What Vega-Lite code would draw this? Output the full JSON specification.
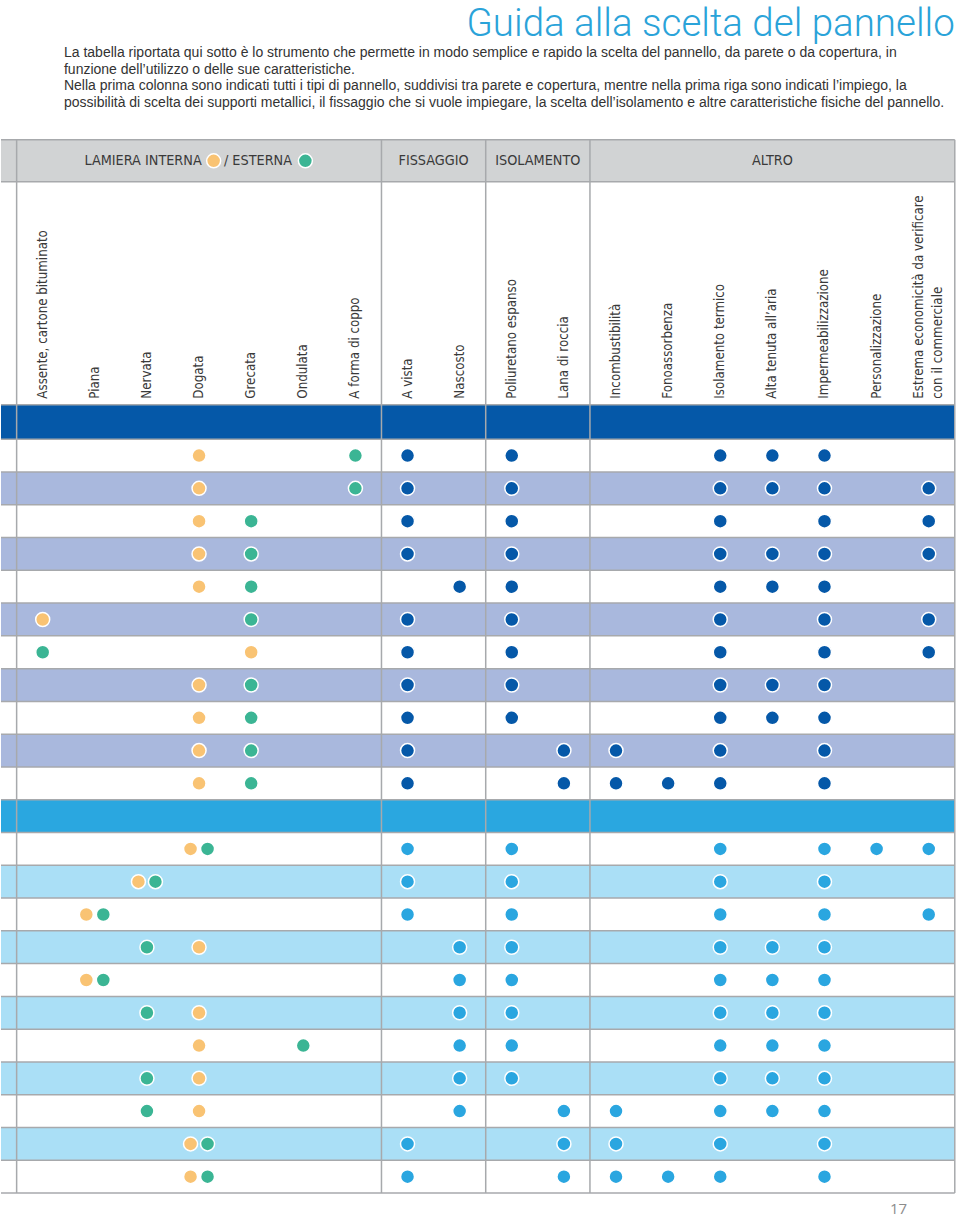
{
"$schema":"https://vega.github.io/schema/vega-lite/v6.json",
"width":960,"height":1217,
"autosize":{"type":"fit","contains":"padding"},
"padding":0,
"background":"#ffffff",
"config":{"view":{"stroke":null}},
"datasets":{
"fasce":[
{"col":0.2,"col2":18.5,"riga":-8.634,"riga2":-7.354,"tipo":"intestazione"},
{"col":0.2,"col2":18.5,"riga":-0.55,"riga2":0.5,"tipo":"banda_parete"},
{"col":0.2,"col2":18.5,"riga":1.5,"riga2":2.5,"tipo":"riga_parete"},
{"col":0.2,"col2":18.5,"riga":3.5,"riga2":4.5,"tipo":"riga_parete"},
{"col":0.2,"col2":18.5,"riga":5.5,"riga2":6.5,"tipo":"riga_parete"},
{"col":0.2,"col2":18.5,"riga":7.5,"riga2":8.5,"tipo":"riga_parete"},
{"col":0.2,"col2":18.5,"riga":9.5,"riga2":10.5,"tipo":"riga_parete"},
{"col":0.2,"col2":18.5,"riga":11.5,"riga2":12.5,"tipo":"banda_copertura"},
{"col":0.2,"col2":18.5,"riga":13.5,"riga2":14.5,"tipo":"riga_copertura"},
{"col":0.2,"col2":18.5,"riga":15.5,"riga2":16.5,"tipo":"riga_copertura"},
{"col":0.2,"col2":18.5,"riga":17.5,"riga2":18.5,"tipo":"riga_copertura"},
{"col":0.2,"col2":18.5,"riga":19.5,"riga2":20.5,"tipo":"riga_copertura"},
{"col":0.2,"col2":18.5,"riga":21.5,"riga2":22.5,"tipo":"riga_copertura"}
],
"linee":[
{"col":0.2,"col2":18.5,"riga":-8.634,"riga2":-8.634},
{"col":0.2,"col2":18.5,"riga":-7.354,"riga2":-7.354},
{"col":0.2,"col2":18.5,"riga":-0.55,"riga2":-0.55},
{"col":0.2,"col2":18.5,"riga":0.5,"riga2":0.5},
{"col":0.2,"col2":18.5,"riga":1.5,"riga2":1.5},
{"col":0.2,"col2":18.5,"riga":2.5,"riga2":2.5},
{"col":0.2,"col2":18.5,"riga":3.5,"riga2":3.5},
{"col":0.2,"col2":18.5,"riga":4.5,"riga2":4.5},
{"col":0.2,"col2":18.5,"riga":5.5,"riga2":5.5},
{"col":0.2,"col2":18.5,"riga":6.5,"riga2":6.5},
{"col":0.2,"col2":18.5,"riga":7.5,"riga2":7.5},
{"col":0.2,"col2":18.5,"riga":8.5,"riga2":8.5},
{"col":0.2,"col2":18.5,"riga":9.5,"riga2":9.5},
{"col":0.2,"col2":18.5,"riga":10.5,"riga2":10.5},
{"col":0.2,"col2":18.5,"riga":11.5,"riga2":11.5},
{"col":0.2,"col2":18.5,"riga":12.5,"riga2":12.5},
{"col":0.2,"col2":18.5,"riga":13.5,"riga2":13.5},
{"col":0.2,"col2":18.5,"riga":14.5,"riga2":14.5},
{"col":0.2,"col2":18.5,"riga":15.5,"riga2":15.5},
{"col":0.2,"col2":18.5,"riga":16.5,"riga2":16.5},
{"col":0.2,"col2":18.5,"riga":17.5,"riga2":17.5},
{"col":0.2,"col2":18.5,"riga":18.5,"riga2":18.5},
{"col":0.2,"col2":18.5,"riga":19.5,"riga2":19.5},
{"col":0.2,"col2":18.5,"riga":20.5,"riga2":20.5},
{"col":0.2,"col2":18.5,"riga":21.5,"riga2":21.5},
{"col":0.2,"col2":18.5,"riga":22.5,"riga2":22.5},
{"col":0.2,"col2":18.5,"riga":23.5,"riga2":23.5},
{"col":0.5,"col2":0.5,"riga":-8.634,"riga2":23.5},
{"col":7.5,"col2":7.5,"riga":-8.634,"riga2":23.5},
{"col":9.5,"col2":9.5,"riga":-8.634,"riga2":23.5},
{"col":11.5,"col2":11.5,"riga":-8.634,"riga2":23.5},
{"col":18.5,"col2":18.5,"riga":-8.634,"riga2":23.5}
],
"punti":[
{"riga":1,"col":4,"tipo":"interna"},{"riga":1,"col":7,"tipo":"esterna"},
{"riga":1,"col":8,"tipo":"parete"},{"riga":1,"col":10,"tipo":"parete"},{"riga":1,"col":14,"tipo":"parete"},{"riga":1,"col":15,"tipo":"parete"},{"riga":1,"col":16,"tipo":"parete"},
{"riga":2,"col":4,"tipo":"interna"},{"riga":2,"col":7,"tipo":"esterna"},
{"riga":2,"col":8,"tipo":"parete"},{"riga":2,"col":10,"tipo":"parete"},{"riga":2,"col":14,"tipo":"parete"},{"riga":2,"col":15,"tipo":"parete"},{"riga":2,"col":16,"tipo":"parete"},{"riga":2,"col":18,"tipo":"parete"},
{"riga":3,"col":4,"tipo":"interna"},{"riga":3,"col":5,"tipo":"esterna"},
{"riga":3,"col":8,"tipo":"parete"},{"riga":3,"col":10,"tipo":"parete"},{"riga":3,"col":14,"tipo":"parete"},{"riga":3,"col":16,"tipo":"parete"},{"riga":3,"col":18,"tipo":"parete"},
{"riga":4,"col":4,"tipo":"interna"},{"riga":4,"col":5,"tipo":"esterna"},
{"riga":4,"col":8,"tipo":"parete"},{"riga":4,"col":10,"tipo":"parete"},{"riga":4,"col":14,"tipo":"parete"},{"riga":4,"col":15,"tipo":"parete"},{"riga":4,"col":16,"tipo":"parete"},{"riga":4,"col":18,"tipo":"parete"},
{"riga":5,"col":4,"tipo":"interna"},{"riga":5,"col":5,"tipo":"esterna"},
{"riga":5,"col":9,"tipo":"parete"},{"riga":5,"col":10,"tipo":"parete"},{"riga":5,"col":14,"tipo":"parete"},{"riga":5,"col":15,"tipo":"parete"},{"riga":5,"col":16,"tipo":"parete"},
{"riga":6,"col":1,"tipo":"interna"},{"riga":6,"col":5,"tipo":"esterna"},
{"riga":6,"col":8,"tipo":"parete"},{"riga":6,"col":10,"tipo":"parete"},{"riga":6,"col":14,"tipo":"parete"},{"riga":6,"col":16,"tipo":"parete"},{"riga":6,"col":18,"tipo":"parete"},
{"riga":7,"col":1,"tipo":"esterna"},{"riga":7,"col":5,"tipo":"interna"},
{"riga":7,"col":8,"tipo":"parete"},{"riga":7,"col":10,"tipo":"parete"},{"riga":7,"col":14,"tipo":"parete"},{"riga":7,"col":16,"tipo":"parete"},{"riga":7,"col":18,"tipo":"parete"},
{"riga":8,"col":4,"tipo":"interna"},{"riga":8,"col":5,"tipo":"esterna"},
{"riga":8,"col":8,"tipo":"parete"},{"riga":8,"col":10,"tipo":"parete"},{"riga":8,"col":14,"tipo":"parete"},{"riga":8,"col":15,"tipo":"parete"},{"riga":8,"col":16,"tipo":"parete"},
{"riga":9,"col":4,"tipo":"interna"},{"riga":9,"col":5,"tipo":"esterna"},
{"riga":9,"col":8,"tipo":"parete"},{"riga":9,"col":10,"tipo":"parete"},{"riga":9,"col":14,"tipo":"parete"},{"riga":9,"col":15,"tipo":"parete"},{"riga":9,"col":16,"tipo":"parete"},
{"riga":10,"col":4,"tipo":"interna"},{"riga":10,"col":5,"tipo":"esterna"},
{"riga":10,"col":8,"tipo":"parete"},{"riga":10,"col":11,"tipo":"parete"},{"riga":10,"col":12,"tipo":"parete"},{"riga":10,"col":14,"tipo":"parete"},{"riga":10,"col":16,"tipo":"parete"},
{"riga":11,"col":4,"tipo":"interna"},{"riga":11,"col":5,"tipo":"esterna"},
{"riga":11,"col":8,"tipo":"parete"},{"riga":11,"col":11,"tipo":"parete"},{"riga":11,"col":12,"tipo":"parete"},{"riga":11,"col":13,"tipo":"parete"},{"riga":11,"col":14,"tipo":"parete"},{"riga":11,"col":16,"tipo":"parete"},
{"riga":13,"col":4,"tipo":"interna","coppia":true},{"riga":13,"col":4,"tipo":"esterna","coppia":true},
{"riga":13,"col":8,"tipo":"copertura"},{"riga":13,"col":10,"tipo":"copertura"},{"riga":13,"col":14,"tipo":"copertura"},{"riga":13,"col":16,"tipo":"copertura"},{"riga":13,"col":17,"tipo":"copertura"},{"riga":13,"col":18,"tipo":"copertura"},
{"riga":14,"col":3,"tipo":"interna","coppia":true},{"riga":14,"col":3,"tipo":"esterna","coppia":true},
{"riga":14,"col":8,"tipo":"copertura"},{"riga":14,"col":10,"tipo":"copertura"},{"riga":14,"col":14,"tipo":"copertura"},{"riga":14,"col":16,"tipo":"copertura"},
{"riga":15,"col":2,"tipo":"interna","coppia":true},{"riga":15,"col":2,"tipo":"esterna","coppia":true},
{"riga":15,"col":8,"tipo":"copertura"},{"riga":15,"col":10,"tipo":"copertura"},{"riga":15,"col":14,"tipo":"copertura"},{"riga":15,"col":16,"tipo":"copertura"},{"riga":15,"col":18,"tipo":"copertura"},
{"riga":16,"col":3,"tipo":"esterna"},{"riga":16,"col":4,"tipo":"interna"},
{"riga":16,"col":9,"tipo":"copertura"},{"riga":16,"col":10,"tipo":"copertura"},{"riga":16,"col":14,"tipo":"copertura"},{"riga":16,"col":15,"tipo":"copertura"},{"riga":16,"col":16,"tipo":"copertura"},
{"riga":17,"col":2,"tipo":"interna","coppia":true},{"riga":17,"col":2,"tipo":"esterna","coppia":true},
{"riga":17,"col":9,"tipo":"copertura"},{"riga":17,"col":10,"tipo":"copertura"},{"riga":17,"col":14,"tipo":"copertura"},{"riga":17,"col":15,"tipo":"copertura"},{"riga":17,"col":16,"tipo":"copertura"},
{"riga":18,"col":3,"tipo":"esterna"},{"riga":18,"col":4,"tipo":"interna"},
{"riga":18,"col":9,"tipo":"copertura"},{"riga":18,"col":10,"tipo":"copertura"},{"riga":18,"col":14,"tipo":"copertura"},{"riga":18,"col":15,"tipo":"copertura"},{"riga":18,"col":16,"tipo":"copertura"},
{"riga":19,"col":4,"tipo":"interna"},{"riga":19,"col":6,"tipo":"esterna"},
{"riga":19,"col":9,"tipo":"copertura"},{"riga":19,"col":10,"tipo":"copertura"},{"riga":19,"col":14,"tipo":"copertura"},{"riga":19,"col":15,"tipo":"copertura"},{"riga":19,"col":16,"tipo":"copertura"},
{"riga":20,"col":3,"tipo":"esterna"},{"riga":20,"col":4,"tipo":"interna"},
{"riga":20,"col":9,"tipo":"copertura"},{"riga":20,"col":10,"tipo":"copertura"},{"riga":20,"col":14,"tipo":"copertura"},{"riga":20,"col":15,"tipo":"copertura"},{"riga":20,"col":16,"tipo":"copertura"},
{"riga":21,"col":3,"tipo":"esterna"},{"riga":21,"col":4,"tipo":"interna"},
{"riga":21,"col":9,"tipo":"copertura"},{"riga":21,"col":11,"tipo":"copertura"},{"riga":21,"col":12,"tipo":"copertura"},{"riga":21,"col":14,"tipo":"copertura"},{"riga":21,"col":15,"tipo":"copertura"},{"riga":21,"col":16,"tipo":"copertura"},
{"riga":22,"col":4,"tipo":"interna","coppia":true},{"riga":22,"col":4,"tipo":"esterna","coppia":true},
{"riga":22,"col":8,"tipo":"copertura"},{"riga":22,"col":11,"tipo":"copertura"},{"riga":22,"col":12,"tipo":"copertura"},{"riga":22,"col":14,"tipo":"copertura"},{"riga":22,"col":16,"tipo":"copertura"},
{"riga":23,"col":4,"tipo":"interna","coppia":true},{"riga":23,"col":4,"tipo":"esterna","coppia":true},
{"riga":23,"col":8,"tipo":"copertura"},{"riga":23,"col":11,"tipo":"copertura"},{"riga":23,"col":12,"tipo":"copertura"},{"riga":23,"col":13,"tipo":"copertura"},{"riga":23,"col":14,"tipo":"copertura"},{"riga":23,"col":16,"tipo":"copertura"}
],
"legenda":[
{"col":4.28,"riga":-7.992,"tipo":"interna"},
{"col":6.04,"riga":-7.992,"tipo":"esterna"}
],
"gruppi":[
{"col":2.926,"riga":-7.992,"t":"LAMIERA INTERNA"},
{"col":5.13,"riga":-7.992,"t":"/ ESTERNA"},
{"col":8.5,"riga":-7.992,"t":"FISSAGGIO"},
{"col":10.5,"riga":-7.992,"t":"ISOLAMENTO"},
{"col":15,"riga":-7.992,"t":"ALTRO"}
],
"colonne":[
{"col":1,"riga":-0.737,"t":"Assente, cartone bituminato"},
{"col":2,"riga":-0.737,"t":"Piana"},
{"col":3,"riga":-0.737,"t":"Nervata"},
{"col":4,"riga":-0.737,"t":"Dogata"},
{"col":5,"riga":-0.737,"t":"Grecata"},
{"col":6,"riga":-0.737,"t":"Ondulata"},
{"col":7,"riga":-0.737,"t":"A forma di coppo"},
{"col":8,"riga":-0.737,"t":"A vista"},
{"col":9,"riga":-0.737,"t":"Nascosto"},
{"col":10,"riga":-0.737,"t":"Poliuretano espanso"},
{"col":11,"riga":-0.737,"t":"Lana di roccia"},
{"col":12,"riga":-0.737,"t":"Incombustibilità"},
{"col":13,"riga":-0.737,"t":"Fonoassorbenza"},
{"col":14,"riga":-0.737,"t":"Isolamento termico"},
{"col":15,"riga":-0.737,"t":"Alta tenuta all’aria"},
{"col":16,"riga":-0.737,"t":"Impermeabilizzazione"},
{"col":17,"riga":-0.737,"t":"Personalizzazione"},
{"col":18,"riga":-0.737,"t":"Estrema economicità da verificare|con il commerciale","doppia":true}
],
"paragrafo":[
{"col":1.408,"riga":-11.147,"t":"La tabella riportata qui sotto è lo strumento che permette in modo semplice e rapido la scelta del pannello, da parete o da copertura, in"},
{"col":1.408,"riga":-10.644,"t":"funzione dell’utilizzo o delle sue caratteristiche."},
{"col":1.408,"riga":-10.141,"t":"Nella prima colonna sono indicati tutti i tipi di pannello, suddivisi tra parete e copertura, mentre nella prima riga sono indicati l’impiego, la"},
{"col":1.408,"riga":-9.638,"t":"possibilità di scelta dei supporti metallici, il fissaggio che si vuole impiegare, la scelta dell’isolamento e altre caratteristiche fisiche del pannello."}
]
},
"encoding":{
"x":{"field":"col","type":"quantitative","scale":{"domain":[0.2,18.6],"nice":false,"zero":false},"axis":null},
"y":{"field":"riga","type":"quantitative","scale":{"domain":[-12.9,24.2],"nice":false,"zero":false,"reverse":true},"axis":null}
},
"layer":[
{"data":{"name":"fasce"},"mark":{"type":"rect","strokeWidth":0},
"encoding":{"x2":{"field":"col2"},"y2":{"field":"riga2"},
"fill":{"field":"tipo","type":"nominal","legend":null,"scale":{"domain":["intestazione","banda_parete","riga_parete","banda_copertura","riga_copertura","interna","esterna","parete","copertura"],"range":["#d1d3d4","#0558a8","#a9b8dd","#2aa7e0","#aadff6","#f9c373","#3bb594","#0558a8","#2aa6e0"]}}}},
{"data":{"name":"linee"},"mark":{"type":"rule","color":"#a7a9ac","strokeWidth":1.5},
"encoding":{"x2":{"field":"col2"},"y2":{"field":"riga2"}}},
{"data":{"name":"punti"},"transform":[{"filter":"!datum.coppia"}],
"mark":{"type":"circle","size":196,"opacity":1,"stroke":"#ffffff","strokeWidth":1.5},
"encoding":{"fill":{"field":"tipo","type":"nominal","legend":null}}},
{"data":{"name":"punti"},"transform":[{"filter":"datum.coppia && datum.tipo == 'interna'"}],
"mark":{"type":"circle","size":196,"opacity":1,"stroke":"#ffffff","strokeWidth":1.5,"xOffset":-8.5},
"encoding":{"fill":{"field":"tipo","type":"nominal","legend":null}}},
{"data":{"name":"punti"},"transform":[{"filter":"datum.coppia && datum.tipo == 'esterna'"}],
"mark":{"type":"circle","size":196,"opacity":1,"stroke":"#ffffff","strokeWidth":1.5,"xOffset":8.5},
"encoding":{"fill":{"field":"tipo","type":"nominal","legend":null}}},
{"data":{"name":"legenda"},
"mark":{"type":"circle","size":196,"opacity":1,"stroke":"#ffffff","strokeWidth":1.5},
"encoding":{"fill":{"field":"tipo","type":"nominal","legend":null}}},
{"data":{"name":"gruppi"},
"mark":{"type":"text","align":"center","baseline":"middle","font":"DejaVu Sans Condensed, sans-serif","fontSize":14.3,"color":"#3a3a3a"},
"encoding":{"text":{"field":"t"}}},
{"data":{"name":"colonne"},"transform":[{"filter":"!datum.doppia"}],
"mark":{"type":"text","align":"left","baseline":"middle","angle":270,"font":"DejaVu Sans Condensed, sans-serif","fontSize":13.2,"color":"#3a3a3a"},
"encoding":{"text":{"field":"t"}}},
{"data":{"name":"colonne"},"transform":[{"filter":"datum.doppia"}],
"mark":{"type":"text","align":"left","baseline":"middle","angle":270,"lineBreak":"|","lineHeight":19,"dy":-9.5,"font":"DejaVu Sans Condensed, sans-serif","fontSize":13.2,"color":"#3a3a3a"},
"encoding":{"text":{"field":"t"}}},
{"data":{"name":"paragrafo"},
"mark":{"type":"text","align":"left","baseline":"alphabetic","font":"Liberation Sans, sans-serif","fontSize":14,"color":"#333333"},
"encoding":{"text":{"field":"t"}}},
{"data":{"values":[{"col":18.5,"riga":-11.8,"t":"Guida alla scelta del pannello"}]},
"mark":{"type":"text","align":"right","baseline":"alphabetic","font":"Roboto, sans-serif","fontWeight":300,"fontSize":38.5,"color":"#2aa3d9"},
"encoding":{"text":{"field":"t"}}},
{"data":{"values":[{"col":17.42,"riga":24.139,"t":"17"}]},
"mark":{"type":"text","align":"center","baseline":"alphabetic","font":"Open Sans, sans-serif","fontSize":15,"color":"#8c8c8c"},
"encoding":{"text":{"field":"t"}}}
]
}
